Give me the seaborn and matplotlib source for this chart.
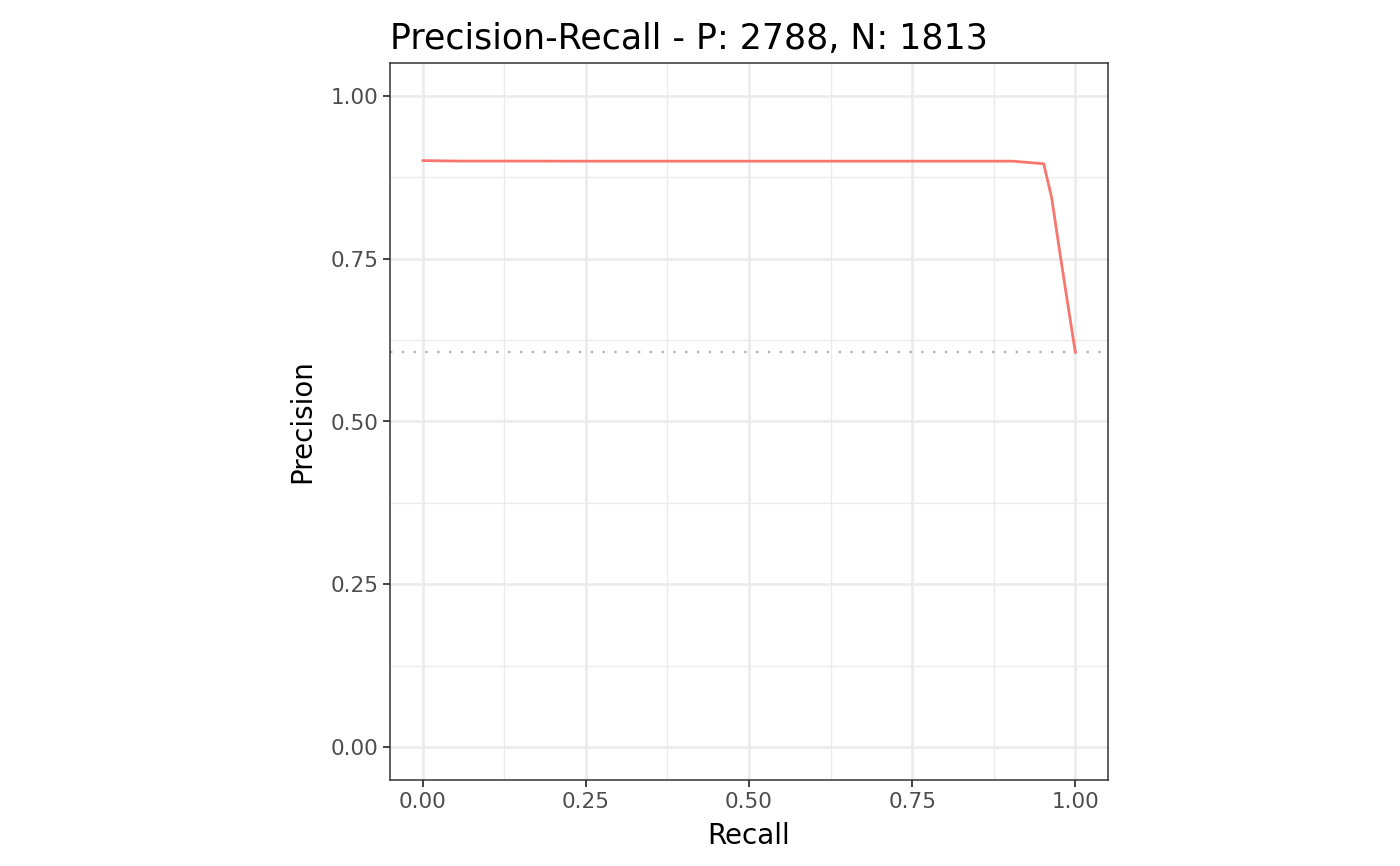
import numpy as np
import pandas as pd
import matplotlib
matplotlib.use("Agg")
import matplotlib.pyplot as plt
import seaborn as sns

# Data
recall = [0.0, 0.05, 0.25, 0.50, 0.75, 0.904, 0.9515, 0.9637, 0.9755, 0.988, 1.0]
precision = [0.9003, 0.8996, 0.8994, 0.8994, 0.8994, 0.8994, 0.8954, 0.8433, 0.764, 0.6826, 0.6059]
n_pos = 2788
n_neg = 1813
baseline = n_pos / (n_pos + n_neg)

df = pd.DataFrame({"Recall": recall, "Precision": precision})

sns.set_style("white")
plt.rcParams["font.family"] = ["DejaVu Sans"]

fig = plt.figure(figsize=(14, 8.66), dpi=100)
ax = fig.add_axes([390 / 1400, 86 / 866, 718 / 1400, 717 / 866])

ticks = [0.0, 0.25, 0.5, 0.75, 1.0]
minor = [0.125, 0.375, 0.625, 0.875]
for t in ticks:
    ax.axvline(t, color="#EBEBEB", lw=1.9, zorder=0)
    ax.axhline(t, color="#EBEBEB", lw=1.9, zorder=0)
for t in minor:
    ax.axvline(t, color="#EBEBEB", lw=0.95, zorder=0)
    ax.axhline(t, color="#EBEBEB", lw=0.95, zorder=0)

ax.axhline(baseline, color="#B3B3B3", lw=1.7, ls=(0, (1, 4.0)), zorder=1)
sns.lineplot(data=df, x="Recall", y="Precision", color="#F8766D", lw=2.0,
             sort=False, ax=ax, zorder=2)

ax.set_xlim(-0.05, 1.05)
ax.set_ylim(-0.05, 1.05)
ax.set_xticks(ticks)
ax.set_yticks(ticks)
ax.set_xticklabels([f"{t:.2f}" for t in ticks])
ax.set_yticklabels([f"{t:.2f}" for t in ticks])
ax.tick_params(axis="both", which="major", length=5, width=1.3, color="#333333",
               labelsize=15.5, labelcolor="#4D4D4D", direction="out", pad=3.5,
               bottom=True, left=True)
for s in ax.spines.values():
    s.set_color("#333333")
    s.set_linewidth(1.1)

ax.set_xlabel("Recall", fontsize=20, color="black", labelpad=7)
ax.set_ylabel("Precision", fontsize=20, color="black", labelpad=10)
ax.set_title(f"Precision-Recall - P: {n_pos}, N: {n_neg}", fontsize=25,
             color="black", loc="left", pad=10)

fig.savefig("out.png", dpi=100)
